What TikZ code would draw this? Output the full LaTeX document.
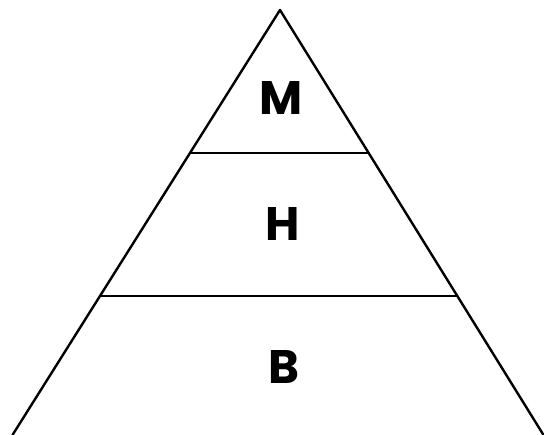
\documentclass[tikz,border=0pt]{standalone}
\usepackage{fontspec}
\setmainfont{Poppins}
\usetikzlibrary{calc}
\begin{document}
\begin{tikzpicture}[x=1pt,y=1pt,
  edge/.style={line width=2.4pt,black,line cap=round,line join=round},
  level/.style={font=\fontsize{47}{47}\selectfont\bfseries,inner sep=0pt,anchor=center}]
\useasboundingbox (0,0) rectangle (544,435);
\clip (0,0) rectangle (544,435);
\coordinate (apex) at (280,425);
\coordinate (bl) at (12.5,0);
\coordinate (br) at (543.5,0);
\coordinate (l1) at ($(apex)!0.3365!(bl)$);
\coordinate (r1) at ($(apex)!0.3365!(br)$);
\coordinate (l2) at ($(apex)!0.673!(bl)$);
\coordinate (r2) at ($(apex)!0.673!(br)$);
\draw[edge] (bl) -- (apex) -- (br);
\draw[edge] (l1) -- (r1);
\draw[edge] (l2) -- (r2);
\node[level] (M) at (281,337) {M};
\node[level] (H) at (282.5,211) {H};
\node[level] (B) at (284,68) {B};
\end{tikzpicture}
\end{document}
